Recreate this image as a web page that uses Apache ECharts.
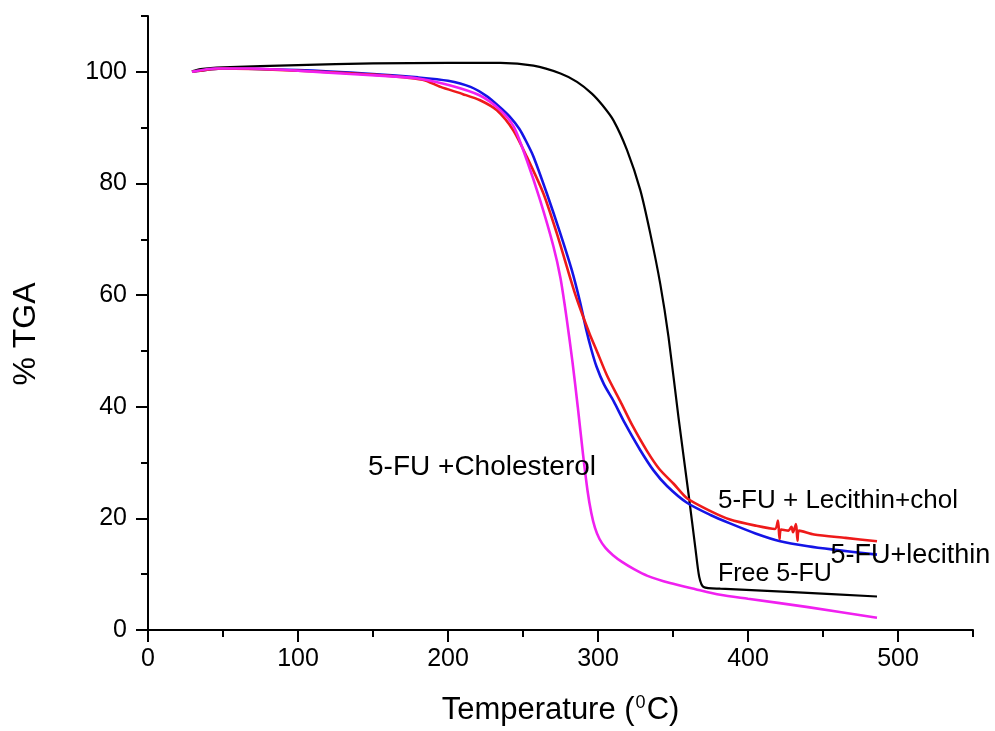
<!DOCTYPE html>
<html>
<head>
<meta charset="utf-8">
<script src="https://cdn.jsdelivr.net/npm/echarts@6/dist/echarts.min.js"></script>
<style>
  html, body { margin: 0; background: #fff; }
  #chart { width: 995px; height: 731px; }
</style>
</head>
<body>
<div id="chart"></div>
<script>
// [temperature °C, % weight]
const freeFU = [
  [29.3, 100.1], [35, 100.5], [50, 100.8], [100, 101.2], [150, 101.5], [200, 101.6],
  [235, 101.6], [257, 101.1], [275, 99.7], [286, 98.2], [295.9, 96.1], [303, 94.0],
  [310.3, 91.3], [319.3, 86.0], [328.2, 78.8], [334.8, 71.1], [341.5, 62.0], [347, 52.5],
  [353.7, 38.0], [360.3, 24.5], [365, 14.5], [367.5, 9.5], [370.4, 7.7], [381.5, 7.4],
  [430, 6.8], [486, 6.0]
];
const fuLecithin = [
  [29.3, 100.0], [50, 100.6], [100, 100.3], [150, 99.6], [180, 99.0], [200, 98.4],
  [215, 97.3], [226, 95.6], [234.8, 93.6], [241, 92.0], [247.5, 89.8], [252, 87.6],
  [257, 84.8], [265.9, 78.2], [274.8, 71.1], [282.5, 64.5], [288, 58.8], [292, 54.0],
  [295.5, 50.3], [299, 47.2], [304, 44.0], [310.4, 41.0], [318, 37.0], [328, 32.3],
  [337, 28.6], [346, 25.8], [359.3, 22.8], [375, 20.6], [388, 19.1], [405, 17.3],
  [421.5, 15.9], [440, 15.0], [457, 14.4], [486, 13.5]
];
const fuLecithinChol = [
  [29.3, 100.0], [50, 100.6], [100, 100.2], [150, 99.5], [183, 98.6], [195, 97.3],
  [210, 96.0], [221.4, 94.9], [232.6, 93.1], [243.6, 89.5], [252.5, 84.8], [263.6, 78.2],
  [272.5, 71.1], [279.2, 65.1], [285, 60.0], [290, 56.2], [294.5, 53.0], [299.2, 50.0],
  [306, 45.6], [314.8, 41.0], [323, 36.6], [332.6, 32.1], [341, 28.8], [350.4, 26.2],
  [359.3, 23.6], [375, 21.3], [388, 19.8], [405, 18.7], [418, 18.1],
  [420, 19.6], [421, 16.3], [422, 18.0], [427, 17.8], [429, 18.5], [430, 17.5],
  [432, 19.0], [433, 16.0], [434, 17.8], [444, 17.1], [465, 16.5], [486, 15.9]
];
const fuCholesterol = [
  [29.3, 100.0], [45, 100.6], [68, 100.6], [100, 100.2], [135, 99.6], [168, 99.1],
  [180, 98.8], [201, 97.6], [221, 95.8], [235, 93.1], [244, 90.1], [252.5, 84.2],
  [261.4, 77.0], [270.3, 68.7], [275, 63.0], [279, 56.0], [283, 48.0], [286.5, 40.0],
  [290, 31.5], [293, 25.0], [295.5, 21.0], [298, 18.3], [301, 16.3], [305, 14.7],
  [310, 13.4], [316, 12.2], [324, 10.9], [333, 9.7], [348, 8.4], [365, 7.3],
  [381.5, 6.3], [400, 5.6], [440, 4.1], [486, 2.2]
];

const xMajor = [0, 100, 200, 300, 400, 500];
const yMajor = [0, 20, 40, 60, 80, 100];

// annotation anchors in data units: [x, y, text, font size]
const notes = [
  [146.7, 29.1, '5-FU +Cholesterol', 28],
  [380, 23.2, '5-FU + Lecithin+chol', 26],
  [455, 13.4, '5-FU+lecithin', 27],
  [380, 10.0, 'Free 5-FU', 25]
];

const FONT = 'Arial, "Liberation Sans", sans-serif';
const chart = echarts.init(document.getElementById('chart'), null, { renderer: 'canvas' });

const axisLine = { show: true, lineStyle: { color: '#000', width: 2 } };

function lineSeries(name, data, color, width, z) {
  return {
    name, type: 'line', data,
    xAxisIndex: 0, yAxisIndex: 0,
    symbol: 'none', smooth: 0.25,
    lineStyle: { color, width },
    itemStyle: { color },
    z
  };
}

chart.setOption({
  backgroundColor: '#fff',
  animation: false,
  grid: { left: 148, right: 22, top: 16, bottom: 100 },
  xAxis: [
    {
      type: 'value', min: 0, max: 550, interval: 50, position: 'bottom',
      axisLine,
      axisTick: { show: true, inside: false, length: 7, lineStyle: { color: '#000', width: 2 } },
      axisLabel: { customValues: xMajor, color: '#000', fontSize: 25, fontFamily: FONT, margin: 17 },
      splitLine: { show: false },
      name: '{n|Temperature (}{s|0}{n|C)}',
      nameLocation: 'middle', nameGap: 64,
      nameTextStyle: {
        fontFamily: FONT, color: '#000',
        rich: {
          n: { fontSize: 31, fontFamily: FONT, color: '#000' },
          s: { fontSize: 18, fontFamily: FONT, color: '#000', verticalAlign: 'bottom', padding: [0, 1, 15, 1] }
        }
      }
    },
    {
      type: 'value', min: 0, max: 550, interval: 50, position: 'bottom', offset: 0,
      axisLine: { show: false },
      axisTick: { show: true, inside: false, length: 12, customValues: xMajor, lineStyle: { color: '#000', width: 2 } },
      axisLabel: { show: false },
      splitLine: { show: false }
    }
  ],
  yAxis: [
    {
      type: 'value', min: 0, max: 110, interval: 10, position: 'left',
      axisLine,
      axisTick: { show: true, inside: false, length: 7, lineStyle: { color: '#000', width: 2 } },
      axisLabel: { customValues: yMajor, color: '#000', fontSize: 25, fontFamily: FONT, margin: 21 },
      splitLine: { show: false },
      name: '% TGA', nameLocation: 'middle', nameGap: 106, nameRotate: 90,
      nameTextStyle: { fontSize: 32, fontFamily: FONT, color: '#000', padding: [0, 22, 0, 0] }
    },
    {
      type: 'value', min: 0, max: 110, interval: 10, position: 'left', offset: 0,
      axisLine: { show: false },
      axisTick: { show: true, inside: false, length: 12, customValues: yMajor, lineStyle: { color: '#000', width: 2 } },
      axisLabel: { show: false },
      splitLine: { show: false }
    }
  ],
  series: [
    lineSeries('Free 5-FU', freeFU, '#000000', 2.2, 2),
    lineSeries('5-FU+lecithin', fuLecithin, '#1414e6', 2.6, 3),
    lineSeries('5-FU + Lecithin+chol', fuLecithinChol, '#ee1a1a', 2.6, 4),
    lineSeries('5-FU +Cholesterol', fuCholesterol, '#f020f0', 2.6, 5),
    {
      type: 'scatter', xAxisIndex: 0, yAxisIndex: 0,
      symbolSize: 0, silent: true, z: 6,
      itemStyle: { color: '#000', opacity: 1 },
      label: {
        show: true, position: 'right', distance: 0,
        formatter: (p) => p.value[2],
        color: '#000', opacity: 1, fontFamily: FONT
      },
      data: notes.map((n) => ({
        value: [n[0], n[1], n[2]],
        label: { fontSize: n[3] }
      }))
    }
  ]
});
</script>
</body>
</html>
